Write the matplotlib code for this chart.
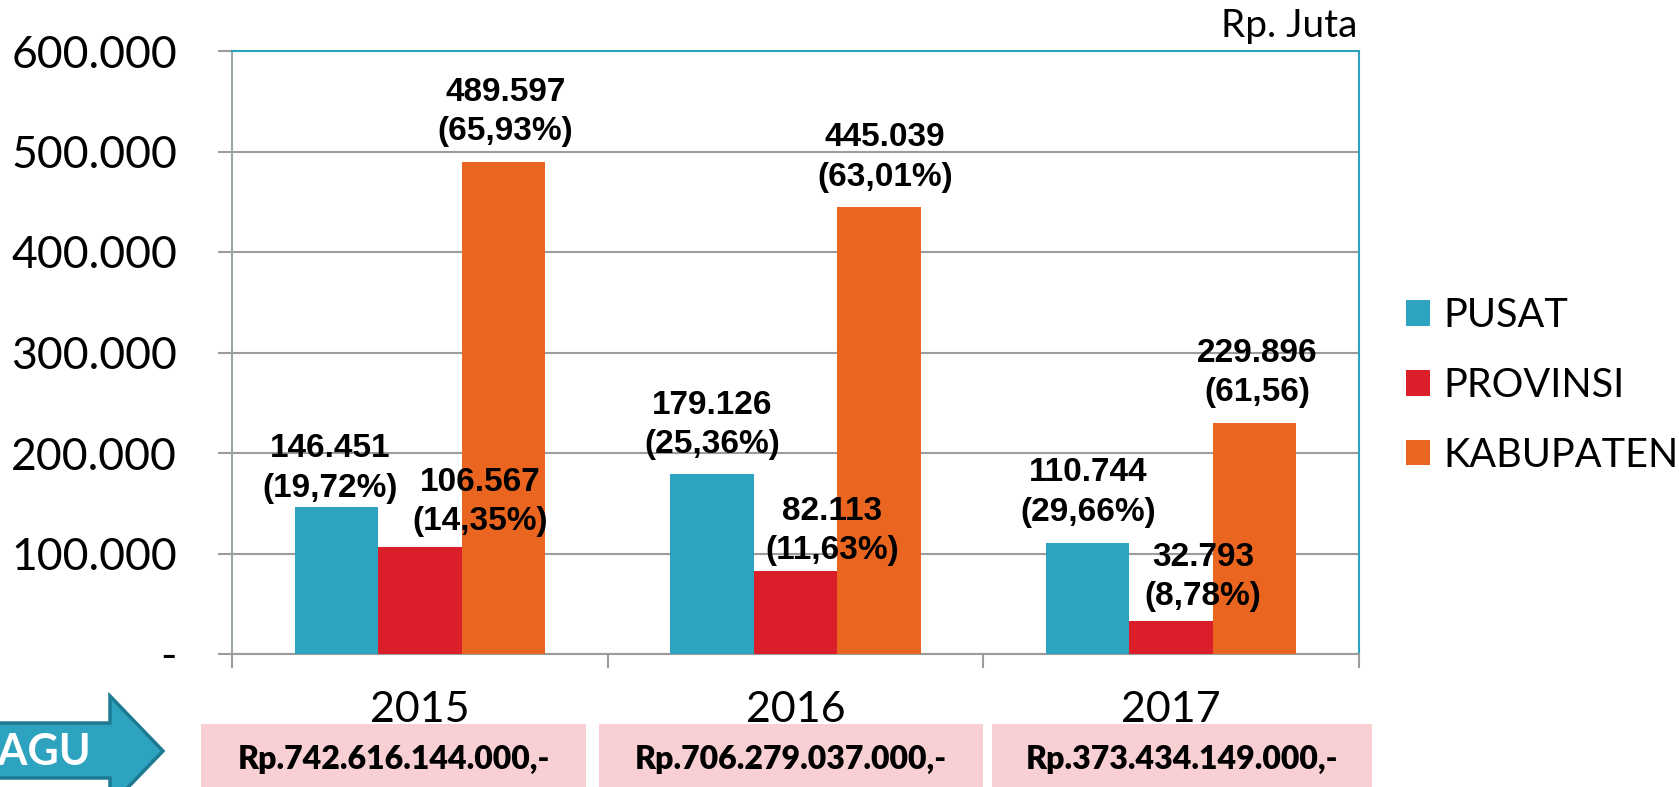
import numpy as np
import matplotlib
matplotlib.use("Agg")
import matplotlib.pyplot as plt
from matplotlib.patches import Patch, Rectangle, Polygon

# ---------------- data ----------------
years = ["2015", "2016", "2017"]
series_names = ["PUSAT", "PROVINSI", "KABUPATEN"]
pusat = [146451, 179126, 110744]
provinsi = [106567, 82113, 32793]
kabupaten = [489597, 445039, 229896]
pct_pusat = ["19,72%", "25,36%", "29,66%"]
pct_provinsi = ["14,35%", "11,63%", "8,78%"]
pct_kabupaten = ["65,93%", "63,01%", "61,56"]
pagu_labels = ["Rp.742.616.144.000,-", "Rp.706.279.037.000,-", "Rp.373.434.149.000,-"]
y_ticks = [0, 100000, 200000, 300000, 400000, 500000, 600000]

# ---------------- style / layout ----------------
W, H = 1679, 787
colors = ["#2EA3C0", "#DB1F2A", "#EA6520"]
grid_col = "#9c9c9c"
teal = "#2EA3C0"
axfont = "Lato"
lblfont = "Liberation Sans"
# per-label pixel offsets (dx, gap above bar)
label_offsets = [
    [(-6, 3), (0, 14), (0, 15)],
    [(60, 10), (37, 5), (32, 9)],
    [(2, 15), (6, 14), (3, 15)],
]
pink_boxes = [(201, 586), (599, 983), (992, 1372)]

fig = plt.figure(figsize=(W / 100, H / 100), dpi=100)
ax = fig.add_axes([232 / W, 1 - 654 / H, 1127 / W, 603 / H])

x = np.arange(len(years))
bw = 0.2222
all_vals = [pusat, provinsi, kabupaten]
all_pct = [pct_pusat, pct_provinsi, pct_kabupaten]
for i, (vals, name, c) in enumerate(zip(all_vals, series_names, colors)):
    xs = x + (i - 1) * bw
    ax.bar(xs, vals, width=bw, color=c, label=name, zorder=3)
    for j, (xx, v, p) in enumerate(zip(xs, vals, all_pct[i])):
        dx, gap = label_offsets[i][j]
        txt = f"{v:,}".replace(",", ".") + f"\n({p})"
        ax.annotate(txt, (xx, v), xytext=(dx, gap), textcoords="offset pixels",
                    ha="center", va="bottom", fontsize=24, fontweight="bold",
                    family=lblfont, linespacing=1.35, color="black", zorder=5)

ax.set_xlim(-0.5, 2.5)
ax.set_ylim(0, 600000)
ax.set_yticks(y_ticks)
ax.set_yticklabels(["-" if v == 0 else f"{v:,}".replace(",", ".") for v in y_ticks],
                   family=axfont, fontsize=32)
ax.tick_params(axis="y", length=10, width=1.5, color=grid_col, pad=29.5, labelcolor="black")
ax.yaxis.grid(True, color=grid_col, lw=1.5, zorder=0)
ax.set_axisbelow(True)

ax.set_xticks(x)
ax.set_xticklabels(years, family=axfont, fontsize=31)
ax.tick_params(axis="x", which="major", length=0, pad=26.5, labelcolor="black")
ax.set_xticks([-0.5, 0.5, 1.5, 2.5], minor=True)
ax.tick_params(axis="x", which="minor", length=10, width=1.5, color=grid_col)

ax.spines["left"].set_color("#9aa6ab")
ax.spines["bottom"].set_color(grid_col)
ax.spines["top"].set_color(teal)
ax.spines["right"].set_color(teal)
for s in ax.spines.values():
    s.set_linewidth(1.5)

# legend
handles = [Patch(facecolor=c, edgecolor="none") for c in colors]
fig.legend(handles, series_names, loc="upper left",
           bbox_to_anchor=(1406 / W, 1 - 297 / H), frameon=False,
           prop={"family": axfont, "size": 28.5}, handlelength=0.606, handleheight=0.606,
           handletextpad=0.33, labelspacing=0.83, borderpad=0, borderaxespad=0)

# unit label
fig.text(1357 / W, 1 - 37 / H, "Rp. Juta", ha="right", va="baseline",
         fontsize=28, family=axfont, color="black")

# PAGU arrow
pts = [(-20, 723), (110, 723), (110, 696), (163, 751), (110, 806), (110, 778), (-20, 778)]
arrow = Polygon([(px / W, 1 - py / H) for px, py in pts], closed=True,
                facecolor=teal, edgecolor="#1E7A92", lw=2.5, transform=fig.transFigure)
fig.add_artist(arrow)
fig.text(91 / W, 1 - 752 / H, "PAGU", ha="right", va="center", color="white",
         fontsize=31, fontweight="bold", family=axfont)

# pink boxes with PAGU totals
for (x0, x1), lab in zip(pink_boxes, pagu_labels):
    fig.add_artist(Rectangle((x0 / W, 0), (x1 - x0) / W, 63 / H,
                             transform=fig.transFigure, facecolor="#F8D0D3", edgecolor="none"))
    fig.text((x0 + x1) / 2 / W, 1 - 769 / H, lab, ha="center", va="baseline",
             fontsize=23, fontweight="heavy", family=axfont, color="black")

fig.savefig("out.png", dpi=100)
